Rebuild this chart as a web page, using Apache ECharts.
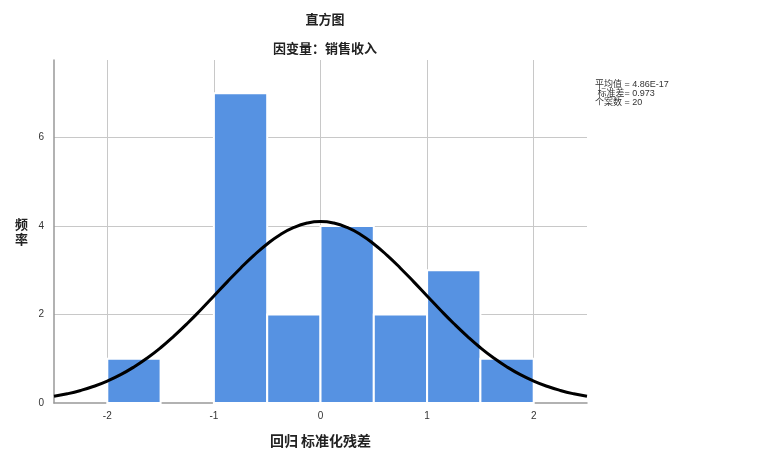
<!DOCTYPE html>
<html><head><meta charset="utf-8">
<script src="https://cdn.jsdelivr.net/npm/echarts@6/dist/echarts.min.js"></script>
<style>html,body{margin:0;padding:0;background:#fff}#c{width:784px;height:462px}</style>
</head><body><div id="c"></div>
<script>
var binStart = [-2, -1.5, -1, -0.5, 0, 0.5, 1, 1.5];
var binEnd   = [-1.5, -1, -0.5, 0, 0.5, 1, 1.5, 2];
var counts   = [1, 0, 7, 2, 4, 2, 3, 1];
var curveX = [-2.5,-2.375,-2.25,-2.125,-2,-1.875,-1.75,-1.625,-1.5,-1.375,-1.25,-1.125,-1,-0.875,-0.75,-0.625,-0.5,-0.375,-0.25,-0.125,0,
              0.125,0.25,0.375,0.5,0.625,0.75,0.875,1,1.125,1.25,1.375,1.5,1.625,1.75,1.875,2,2.125,2.25,2.375,2.5];
var curveY = [0.151,0.208,0.283,0.378,0.496,0.640,0.814,1.017,1.249,1.511,1.796,2.101,2.418,2.737,3.046,3.336,3.593,3.807,3.967,4.066,4.100,
              4.066,3.967,3.807,3.593,3.336,3.046,2.737,2.418,2.101,1.796,1.511,1.249,1.017,0.814,0.640,0.496,0.378,0.283,0.208,0.151];
var statLines = ['平均值 = 4.86E-17', ' 标准差= 0.973', '个案数 = 20'];
var titleText = '直方图';
var subTitleText = '因变量：销售收入';
var xName = '回归 标准化残差';
var yName = '频率';

var chart = echarts.init(document.getElementById('c'));
var grid = {left: 54, right: 197, top: 60, bottom: 59};
var cjk = '"Noto Sans CJK SC", "DejaVu Sans", sans-serif';
var latin = '"Liberation Sans", "Noto Sans CJK SC", sans-serif';
var bars = binStart.map(function(s, i){ return [s, binEnd[i], counts[i]]; });
var curve = curveX.map(function(x, i){ return [x, curveY[i]]; });
var gray = '#c8c8c8', clear = 'rgba(0,0,0,0)';

chart.setOption({
  animation: false,
  textStyle: {fontFamily: cjk},
  title: [
    {text: titleText, left: 320, top: 8, textAlign: 'center',
     textStyle: {fontSize: 13, fontWeight: 'bold', color: '#222', fontFamily: cjk}},
    {text: subTitleText, left: 320, top: 37, textAlign: 'center',
     textStyle: {fontSize: 13, fontWeight: 'bold', color: '#222', fontFamily: cjk}}
  ],
  grid: grid,
  xAxis: {
    type: 'value', min: -2.5, max: 2.5, splitNumber: 5,
    name: xName, nameLocation: 'middle', nameGap: 31,
    nameTextStyle: {fontSize: 14, color: '#222', fontWeight: 'bold', fontFamily: cjk},
    axisLine: {show: true, onZero: false, lineStyle: {color: '#999', width: 1.5}},
    axisTick: {show: false},
    axisLabel: {fontSize: 10, color: '#333', margin: 8, showMinLabel: false, showMaxLabel: false, fontFamily: latin,
      formatter: function(v){ return Math.abs(v - Math.round(v)) < 1e-9 ? String(v) : ''; }},
    splitLine: {show: true, lineStyle: {color: [clear, gray, gray, gray, gray, gray, clear], width: 1}}
  },
  yAxis: {
    type: 'value', min: 0, max: 7.75, interval: 2,
    name: yName.split('').join('\n'), nameLocation: 'middle', nameGap: 26, nameRotate: 0,
    nameTextStyle: {fontSize: 13, color: '#222', fontWeight: 'bold', lineHeight: 15, fontFamily: cjk},
    axisLine: {show: true, onZero: false, lineStyle: {color: '#999', width: 1.5}},
    axisTick: {show: false},
    axisLabel: {fontSize: 10, color: '#333', margin: 10, showMaxLabel: false, fontFamily: latin,
      formatter: function(v){ return v % 2 === 0 ? String(v) : ''; }},
    splitLine: {show: true, lineStyle: {color: [clear, gray, gray, gray, clear], width: 1}}
  },
  graphic: [{
    type: 'text', left: 595, top: 80,
    style: {text: statLines.join('\n'), fontSize: 9, lineHeight: 9, fill: '#333', fontFamily: latin}
  }],
  series: [
    {
      type: 'custom', z: 2,
      renderItem: function(params, api){
        var p0 = api.coord([api.value(0), api.value(2)]);
        var p1 = api.coord([api.value(1), 0]);
        if (api.value(2) <= 0) return null;
        return {type: 'rect',
          shape: {x: p0[0], y: p0[1], width: p1[0] - p0[0], height: p1[1] - p0[1]},
          style: {fill: '#5692e2', stroke: '#ffffff', lineWidth: 2}};
      },
      encode: {x: [0, 1], y: 2},
      data: bars
    },
    {
      type: 'line', z: 3, smooth: true, symbol: 'none',
      lineStyle: {color: '#000', width: 3},
      data: curve
    }
  ]
});
</script></body></html>
